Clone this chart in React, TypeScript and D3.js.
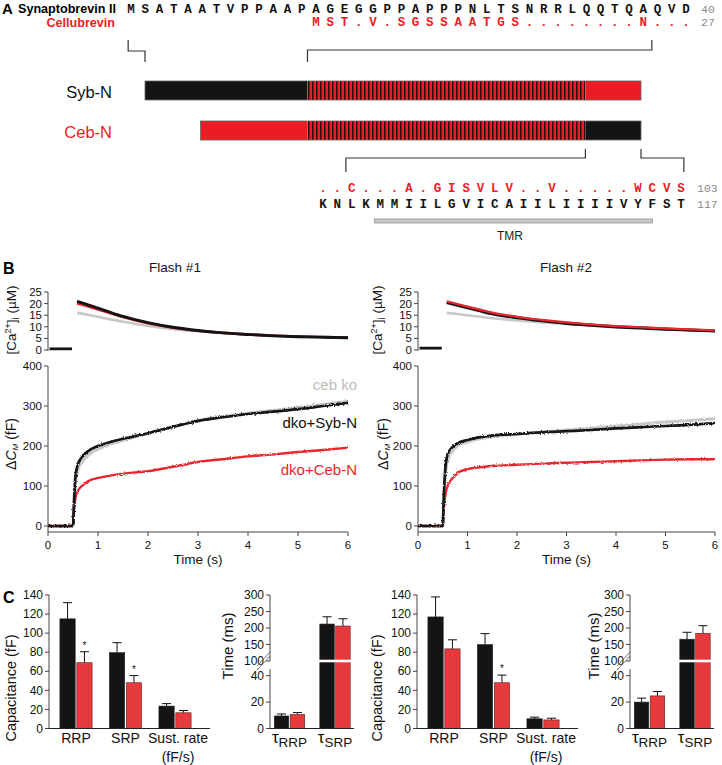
import React from 'react';
import * as d3 from 'd3';

// ---------------- Panel A data ----------------
const synSeq = 'MSATAATVPPAAPAGEGGPPAPPPNLTSNRRLQQTQAQVD'.split('');
const cebSeq = 'MST.V.SGSSAATGS........N...'.split('');
const cebStart = 13;
const synEnd = '40';
const cebEnd = '27';
const tmCeb = '..C...A.GISVLV..V.....WCVS'.split('');
const tmSyb = 'KNLKMMIILGVICAIILIIIIVYFST'.split('');
const tmCebEnd = '103';
const tmSybEnd = '117';
const tmrSpan = [3.6, 23.0];
const sybNSegs = [
  { a: 0, b: 38, k: 'syb' },
  { a: 38, b: 103, k: 'mix' },
  { a: 103, b: 116, k: 'ceb' },
];
const cebNSegs = [
  { a: 13, b: 38, k: 'ceb' },
  { a: 38, b: 103, k: 'mix' },
  { a: 103, b: 116, k: 'syb' },
];

// ---------------- Panel B data ----------------
const timeTicks = [0, 1, 2, 3, 4, 5, 6];
const caTicks = [0, 5, 10, 15, 20, 25];
const cmTicks = [0, 100, 200, 300, 400];
const caBase = [0.03, 0.48];
const caTime = [0.58, 0.8, 1.0, 1.25, 1.5, 2.0, 2.5, 3.0, 3.5, 4.0, 4.5, 5.0, 5.5, 6.0];
const f1CaBase = 0.5;
const f1CaSyb = [21.0, 19.5, 18.0, 16.2, 14.5, 11.8, 9.8, 8.4, 7.4, 6.7, 6.1, 5.7, 5.5, 5.3];
const f1CaCeb = [20.0, 18.8, 17.5, 15.8, 14.2, 11.5, 9.6, 8.3, 7.4, 6.7, 6.2, 5.8, 5.6, 5.4];
const f1CaKo = [16.0, 15.2, 14.3, 13.2, 12.2, 10.4, 9.0, 8.1, 7.3, 6.7, 6.2, 5.8, 5.5, 5.3];
const f2CaBase = 0.8;
const f2CaSyb = [20.5, 19.3, 18.2, 16.9, 15.6, 13.9, 12.6, 11.5, 10.7, 10.0, 9.5, 9.0, 8.6, 8.2];
const f2CaCeb = [21.0, 19.8, 18.7, 17.4, 16.1, 14.3, 13.0, 11.9, 11.0, 10.3, 9.8, 9.3, 8.9, 8.5];
const f2CaKo = [16.0, 15.5, 15.0, 14.3, 13.7, 12.7, 11.9, 11.2, 10.6, 10.0, 9.5, 9.0, 8.6, 8.2];
const cmTime = [0, 0.5, 0.52, 0.55, 0.6, 0.7, 0.8, 1.0, 1.25, 1.5, 2.0, 2.5, 3.0, 3.5, 4.0, 4.5, 5.0, 5.5, 6.0];
const f1CmSyb = [0, 0, 60, 125, 155, 175, 187, 200, 210, 218, 232, 248, 263, 272, 280, 286, 292, 300, 308];
const f1CmKo = [0, 0, 50, 110, 140, 163, 177, 192, 204, 214, 231, 248, 264, 274, 282, 289, 296, 304, 312];
const f1CmCeb = [0, 0, 40, 70, 88, 102, 112, 120, 126, 131, 137, 148, 160, 167, 174, 179, 185, 190, 196];
const f2CmSyb = [0, 0, 70, 140, 180, 198, 207, 215, 222, 226, 230, 234, 237, 240, 244, 247, 250, 253, 257];
const f2CmKo = [0, 0, 55, 120, 165, 188, 200, 210, 218, 223, 229, 235, 240, 245, 250, 255, 260, 264, 268];
const f2CmCeb = [0, 0, 40, 75, 100, 120, 133, 142, 147, 150, 153, 156, 158, 160, 162, 164, 166, 167, 167];

// ---------------- Panel C data ----------------
const capCats = ['RRP', 'SRP', 'Sust'];
const capTicks = [0, 20, 40, 60, 80, 100, 120, 140];
const tauCats = ['RRP', 'SRP'];
const tauTicksHigh = [100, 150, 200, 250, 300];
const tauTicksLow = [0, 20, 40];
const f1CapSyb = [115, 79.5, 23.5];
const f1CapSybErr = [17, 10.5, 2.6];
const f1CapCeb = [69, 48, 16.5];
const f1CapCebErr = [11.5, 7.5, 2.4];
const f1CapStar = [true, true, false];
const f2CapSyb = [117, 88, 10.2];
const f2CapSybErr = [21, 11.5, 1.7];
const f2CapCeb = [83.5, 48, 9];
const f2CapCebErr = [9.5, 8, 1.8];
const f2CapStar = [false, true, false];
const f1TauSyb = [9.5, 212];
const f1TauSybErr = [1.5, 22];
const f1TauCeb = [10.6, 206];
const f1TauCebErr = [1.5, 22];
const f2TauSyb = [20, 166];
const f2TauSybErr = [3, 21];
const f2TauCeb = [24.7, 184];
const f2TauCebErr = [3.3, 23];

const SANS = "'Liberation Sans', Arial, Helvetica, sans-serif";
const MONO = "'Liberation Mono', 'Courier New', monospace";
const RED = '#ec1c24';
const TRACE_RED = '#e8262d';
const BAR_RED = '#e63a3d';
const BLACK = '#141414';
const GRAY = '#c8c8c8';
const AXIS = '#444';

function PanelA() {
  const seqX = d3.scaleLinear().domain([0, 39]).range([131, 686]);
  const tmX = d3.scaleLinear().domain([0, 25]).range([323, 681]);
  const barX = d3.scaleLinear().domain([0, 116]).range([145, 641]);
  const fillFor = (k: string) => (k === 'syb' ? BLACK : k === 'ceb' ? RED : 'url(#stripes)');
  const bar = (segs: any[], y: number, h: number) => (
    <g>
      {segs.map((s, i) => (
        <rect key={i} x={barX(s.a)} y={y} width={barX(s.b) - barX(s.a)} height={h} fill={fillFor(s.k)} />
      ))}
      <rect x={barX(segs[0].a)} y={y} width={barX(segs[segs.length - 1].b) - barX(segs[0].a)} height={h}
        fill="none" stroke="#666" strokeWidth={0.8} />
    </g>
  );
  const bracket = (x1: number, y1: number, ym: number, x2: number, y2: number) => (
    <path d={`M${x1},${y1}V${ym}H${x2}V${y2}`} fill="none" stroke="#333" strokeWidth={1.2} />
  );
  return (
    <g>
      <text x={2} y={14} fontFamily={SANS} fontWeight="bold" fontSize={15}>A</text>
      <text x={18} y={13} fontFamily={SANS} fontWeight="bold" fontSize={12.6}>Synaptobrevin II</text>
      <text x={115} y={27} textAnchor="end" fontFamily={SANS} fontWeight="bold" fontSize={12.6} fill={RED}>Cellubrevin</text>
      {synSeq.map((c, i) => (
        <text key={'s' + i} x={seqX(i)} y={13} textAnchor="middle" fontFamily={MONO} fontWeight="bold" fontSize={12.5} fill="#111">{c}</text>
      ))}
      {cebSeq.map((c, i) => (
        <text key={'c' + i} x={seqX(i + cebStart)} y={26} textAnchor="middle" fontFamily={MONO} fontWeight="bold" fontSize={12.5} fill={RED}>{c}</text>
      ))}
      <text x={701} y={13} fontFamily={MONO} fontSize={11.5} fill="#8a8a8a">{synEnd}</text>
      <text x={701} y={26} fontFamily={MONO} fontSize={11.5} fill="#8a8a8a">{cebEnd}</text>

      {bracket(seqX(-0.2), 40, 51, barX(0), 62)}
      {bracket(seqX(36.6), 40, 50, barX(38), 62)}

      <text x={112} y={98} textAnchor="end" fontFamily={SANS} fontSize={16.5} fill="#111">Syb-N</text>
      <text x={112} y={138} textAnchor="end" fontFamily={SANS} fontSize={16.5} fill={RED}>Ceb-N</text>
      {bar(sybNSegs, 81, 19)}
      {bar(cebNSegs, 121, 19)}

      {bracket(barX(103), 149, 158, tmX(1.6), 172)}
      {bracket(barX(116), 149, 158, tmX(25.2), 172)}

      {tmCeb.map((c, i) => (
        <text key={'tc' + i} x={tmX(i)} y={192} textAnchor="middle" fontFamily={MONO} fontWeight="bold" fontSize={12.5} fill={RED}>{c}</text>
      ))}
      {tmSyb.map((c, i) => (
        <text key={'ts' + i} x={tmX(i)} y={208} textAnchor="middle" fontFamily={MONO} fontWeight="bold" fontSize={12.5} fill="#111">{c}</text>
      ))}
      <text x={697} y={192} fontFamily={MONO} fontSize={11.5} fill="#8a8a8a">{tmCebEnd}</text>
      <text x={697} y={208} fontFamily={MONO} fontSize={11.5} fill="#8a8a8a">{tmSybEnd}</text>
      <rect x={tmX(tmrSpan[0])} y={219} width={tmX(tmrSpan[1]) - tmX(tmrSpan[0])} height={4} fill="#c8c8c8" stroke="#888" strokeWidth={0.7} />
      <text x={510} y={240} textAnchor="middle" fontFamily={SANS} fontSize={12} fill="#222">TMR</text>
    </g>
  );
}

function PanelB(props: any) {
  const { ax, xEnd, title, titleX, base, caSyb, caCeb, caKo, cmSyb, cmCeb, cmKo, redTop, legend, caLabelX, cmLabelX } = props;
  const x = d3.scaleLinear().domain([0, 6]).range([ax, xEnd]);
  const caY = d3.scaleLinear().domain([0, 25]).range([350, 292]);
  const cmY = d3.scaleLinear().domain([0, 400]).range([526, 366]);
  const xAxisY = 532;
  const caLine = d3.line<number>().x((_, i) => x(caTime[i])).y((d) => caY(d)).curve(d3.curveMonotoneX);
  const cmLine = d3.line<number>().x((_, i) => x(cmTime[i])).y((d) => cmY(d)).curve(d3.curveMonotoneX);
  return (
    <g fontFamily={SANS}>
      <text x={titleX} y={272} textAnchor="middle" fontSize={13.5} fill="#111">{title}</text>
      {/* Ca axis */}
      <line x1={ax} x2={ax} y1={caY(25)} y2={caY(0) + 1} stroke={AXIS} />
      {caTicks.map((t) => (
        <g key={t}>
          <line x1={ax - 4} x2={ax} y1={caY(t)} y2={caY(t)} stroke={AXIS} />
          <text x={ax - 6} y={caY(t)} dy="0.35em" textAnchor="end" fontSize={11.5} fill="#111">{t}</text>
        </g>
      ))}
      <text transform={`translate(${caLabelX},320) rotate(-90)`} textAnchor="middle" fontSize={13.5} fill="#111">
        [Ca<tspan dy={-5} fontSize={9}>2+</tspan><tspan dy={5}>]</tspan><tspan dy={3} fontSize={10}>i</tspan><tspan dy={-3}> (µM)</tspan>
      </text>
      <line x1={x(caBase[0])} x2={x(caBase[1])} y1={caY(base)} y2={caY(base)} stroke={BLACK} strokeWidth={2.8} />
      <path d={caLine(caKo) || ''} fill="none" stroke={GRAY} strokeWidth={2.6} />
      {redTop ? (
        <g>
          <path d={caLine(caSyb) || ''} fill="none" stroke={BLACK} strokeWidth={3.2} />
          <path d={caLine(caCeb) || ''} fill="none" stroke={TRACE_RED} strokeWidth={2.2} />
        </g>
      ) : (
        <g>
          <path d={caLine(caCeb) || ''} fill="none" stroke={TRACE_RED} strokeWidth={2.6} />
          <path d={caLine(caSyb) || ''} fill="none" stroke={BLACK} strokeWidth={2.9} />
        </g>
      )}
      {/* Cm axis */}
      <line x1={ax} x2={ax} y1={cmY(400)} y2={xAxisY} stroke={AXIS} />
      {cmTicks.map((t) => (
        <g key={t}>
          <line x1={ax - 4} x2={ax} y1={cmY(t)} y2={cmY(t)} stroke={AXIS} />
          <text x={ax - 6} y={cmY(t)} dy="0.35em" textAnchor="end" fontSize={11.5} fill="#111">{t}</text>
        </g>
      ))}
      <line x1={ax} x2={xEnd} y1={xAxisY} y2={xAxisY} stroke={AXIS} />
      {timeTicks.map((t) => (
        <g key={t}>
          <line x1={x(t)} x2={x(t)} y1={xAxisY} y2={xAxisY + 4} stroke={AXIS} />
          <text x={x(t)} y={549} textAnchor="middle" fontSize={11.5} fill="#111">{t}</text>
        </g>
      ))}
      <text x={(ax + xEnd) / 2} y={564} textAnchor="middle" fontSize={13.5} fill="#111">Time (s)</text>
      <text transform={`translate(${cmLabelX},444) rotate(-90)`} textAnchor="middle" fontSize={14} fill="#111">
        Δ<tspan fontStyle="italic">C</tspan><tspan fontStyle="italic" fontSize={8} dy={2}>M</tspan><tspan dy={-2}> (fF)</tspan>
      </text>
      <g filter="url(#noise)">
        <path d={cmLine(cmKo) || ''} fill="none" stroke={GRAY} strokeWidth={3} />
        <path d={cmLine(cmCeb) || ''} fill="none" stroke={TRACE_RED} strokeWidth={2.4} />
        <path d={cmLine(cmSyb) || ''} fill="none" stroke={BLACK} strokeWidth={2.7} />
      </g>
      {legend && (
        <g fontSize={15} textAnchor="end">
          <text x={357} y={390} fill="#bdbdbd">ceb ko</text>
          <text x={357} y={428} fill="#111">dko+Syb-N</text>
          <text x={357} y={475} fill={TRACE_RED}>dko+Ceb-N</text>
        </g>
      )}
    </g>
  );
}

function PanelC(props: any) {
  const { ax, tx, capSyb, capSybErr, capCeb, capCebErr, capStar, tauSyb, tauSybErr, tauCeb, tauCebErr, capLabelX, tauLabelX } = props;
  const capY = d3.scaleLinear().domain([0, 140]).range([728.5, 595]);
  const tLow = d3.scaleLinear().domain([0, 40]).range([728.5, 675.7]);
  const tHigh = d3.scaleLinear().domain([100, 300]).range([661, 595]);
  const tY = (v: number) => (v <= 45 ? tLow(v) : tHigh(Math.max(v, 100)));
  const capX = d3.scalePoint<string>().domain(capCats).range([ax + 27, ax + 126]);
  const tauX = d3.scalePoint<string>().domain(tauCats).range([tx + 19.5, tx + 65]);
  const bw = 15.3;
  const tw = 14.5;
  const errBar = (cx: number, y0: number, y1: number, k: string) => (
    <g key={k}>
      <line x1={cx} x2={cx} y1={y0} y2={y1} stroke="#111" strokeWidth={1} />
      <line x1={cx - 4.5} x2={cx + 4.5} y1={y1} y2={y1} stroke="#111" strokeWidth={1} />
    </g>
  );
  return (
    <g fontFamily={SANS}>
      {/* capacitance chart */}
      <line x1={ax} x2={ax} y1={595} y2={capY(0)} stroke={AXIS} />
      {capTicks.map((t) => (
        <g key={t}>
          <line x1={ax - 4} x2={ax} y1={capY(t)} y2={capY(t)} stroke={AXIS} />
          <text x={ax - 6} y={capY(t)} dy="0.35em" textAnchor="end" fontSize={12} fill="#111">{t}</text>
        </g>
      ))}
      <text transform={`translate(${capLabelX},688) rotate(-90)`} textAnchor="middle" fontSize={14.5} fill="#111">Capacitance (fF)</text>
      {capCats.map((c, i) => {
        const cx = capX(c) as number;
        const xs = cx - 0.8 - bw;
        const xc = cx + 0.8;
        return (
          <g key={c}>
            {errBar(xs + bw / 2, capY(capSyb[i]), capY(capSyb[i] + capSybErr[i]), 'es')}
            {errBar(xc + bw / 2, capY(capCeb[i]), capY(capCeb[i] + capCebErr[i]), 'ec')}
            <rect x={xs} y={capY(capSyb[i])} width={bw} height={capY(0) - capY(capSyb[i])} fill={BLACK} stroke="#222" strokeWidth={0.6} />
            <rect x={xc} y={capY(capCeb[i])} width={bw} height={capY(0) - capY(capCeb[i])} fill={BAR_RED} stroke="#5a2020" strokeWidth={0.6} />
            {capStar[i] && (
              <text x={xc + bw / 2} y={capY(capCeb[i] + capCebErr[i]) - 3} textAnchor="middle" fontSize={10} fill="#111">*</text>
            )}
          </g>
        );
      })}
      <line x1={ax} x2={ax + 161} y1={capY(0)} y2={capY(0)} stroke="#222" strokeWidth={1} />
      <g fontSize={14} fill="#111" textAnchor="middle">
        <text x={capX('RRP')} y={743}>RRP</text>
        <text x={capX('SRP')} y={743}>SRP</text>
        <text x={(capX('Sust') as number) + 3} y={743}>Sust. rate</text>
        <text x={(capX('Sust') as number) + 3} y={762}>(fF/s)</text>
      </g>

      {/* time chart */}
      <line x1={tx} x2={tx} y1={595} y2={tHigh(100)} stroke={AXIS} />
      <line x1={tx} x2={tx} y1={tLow(45)} y2={tLow(0)} stroke={AXIS} />
      {tauTicksHigh.map((t) => (
        <g key={'h' + t}>
          <line x1={tx - 4} x2={tx} y1={tHigh(t)} y2={tHigh(t)} stroke={AXIS} />
          <text x={tx - 6} y={tHigh(t)} dy="0.35em" textAnchor="end" fontSize={12} fill="#111">{t}</text>
        </g>
      ))}
      {tauTicksLow.map((t) => (
        <g key={'l' + t}>
          <line x1={tx - 4} x2={tx} y1={tLow(t)} y2={tLow(t)} stroke={AXIS} />
          <text x={tx - 6} y={tLow(t)} dy="0.35em" textAnchor="end" fontSize={12} fill="#111">{t}</text>
        </g>
      ))}
      <line x1={tx - 13} x2={tx} y1={tLow(45) + 1} y2={tHigh(100) - 5} stroke="#555" strokeWidth={0.8} />
      <line x1={tx - 13} x2={tx} y1={tLow(45) - 3} y2={tHigh(100) - 9} stroke="#555" strokeWidth={0.8} />
      <text transform={`translate(${tauLabelX},646) rotate(-90)`} textAnchor="middle" fontSize={15} fill="#111">Time (ms)</text>
      {tauCats.map((c, i) => {
        const cx = tauX(c) as number;
        const xs = cx - 0.7 - tw;
        const xc = cx + 0.7;
        return (
          <g key={c}>
            {errBar(xs + tw / 2, tY(tauSyb[i]), tY(tauSyb[i] + tauSybErr[i]), 'es')}
            {errBar(xc + tw / 2, tY(tauCeb[i]), tY(tauCeb[i] + tauCebErr[i]), 'ec')}
            <rect x={xs} y={tY(tauSyb[i])} width={tw} height={tLow(0) - tY(tauSyb[i])} fill={BLACK} stroke="#222" strokeWidth={0.6} />
            <rect x={xc} y={tY(tauCeb[i])} width={tw} height={tLow(0) - tY(tauCeb[i])} fill={BAR_RED} stroke="#5a2020" strokeWidth={0.6} />
            {tauSyb[i] > 100 && (
              <rect x={xs - 1} y={tHigh(100) - 1.3} width={2 * tw + 3.4} height={2.6} fill="#fff" />
            )}
          </g>
        );
      })}
      <line x1={tx} x2={tx + 84} y1={tLow(0)} y2={tLow(0)} stroke="#222" strokeWidth={1} />
      <g fill="#111" textAnchor="middle">
        {tauCats.map((c) => (
          <text key={c} x={tauX(c)} y={743} fontSize={17}>
            τ<tspan fontSize={13.5} dy={4}>{c}</tspan>
          </text>
        ))}
      </g>
    </g>
  );
}

export default function App() {
  return (
    <svg width={722} height={765} viewBox="0 0 722 765"
      style={{ position: 'absolute', left: 0, top: 0, display: 'block', background: '#fff' }}>
      <defs>
        <pattern id="stripes" width={4} height={20} patternUnits="userSpaceOnUse">
          <rect width={4} height={20} fill={RED} />
          <rect x={0} width={1.5} height={20} fill="#2a0c0c" />
        </pattern>
        <filter id="noise" filterUnits="userSpaceOnUse" x={0} y={0} width={722} height={765}>
          <feTurbulence type="fractalNoise" baseFrequency="0.7 0.9" numOctaves={1} seed={3} result="t" />
          <feDisplacementMap in="SourceGraphic" in2="t" scale={3} xChannelSelector="R" yChannelSelector="G" />
        </filter>
      </defs>
      <rect width={722} height={765} fill="#fff" />
      <PanelA />
      <text x={3} y={274} fontFamily={SANS} fontWeight="bold" fontSize={16}>B</text>
      <PanelB ax={48} xEnd={348} title="Flash #1" titleX={175} base={f1CaBase}
        caSyb={f1CaSyb} caCeb={f1CaCeb} caKo={f1CaKo} cmSyb={f1CmSyb} cmCeb={f1CmCeb} cmKo={f1CmKo}
        redTop={false} legend={true} caLabelX={16} cmLabelX={16} />
      <PanelB ax={418} xEnd={715} title="Flash #2" titleX={566} base={f2CaBase}
        caSyb={f2CaSyb} caCeb={f2CaCeb} caKo={f2CaKo} cmSyb={f2CmSyb} cmCeb={f2CmCeb} cmKo={f2CmKo}
        redTop={true} legend={false} caLabelX={382} cmLabelX={388} />
      <text x={3} y={603} fontFamily={SANS} fontWeight="bold" fontSize={16}>C</text>
      <PanelC ax={49} tx={270} capLabelX={16} tauLabelX={233}
        capSyb={f1CapSyb} capSybErr={f1CapSybErr} capCeb={f1CapCeb} capCebErr={f1CapCebErr} capStar={f1CapStar}
        tauSyb={f1TauSyb} tauSybErr={f1TauSybErr} tauCeb={f1TauCeb} tauCebErr={f1TauCebErr} />
      <PanelC ax={417} tx={630} capLabelX={382} tauLabelX={599}
        capSyb={f2CapSyb} capSybErr={f2CapSybErr} capCeb={f2CapCeb} capCebErr={f2CapCebErr} capStar={f2CapStar}
        tauSyb={f2TauSyb} tauSybErr={f2TauSybErr} tauCeb={f2TauCeb} tauCebErr={f2TauCebErr} />
    </svg>
  );
}
